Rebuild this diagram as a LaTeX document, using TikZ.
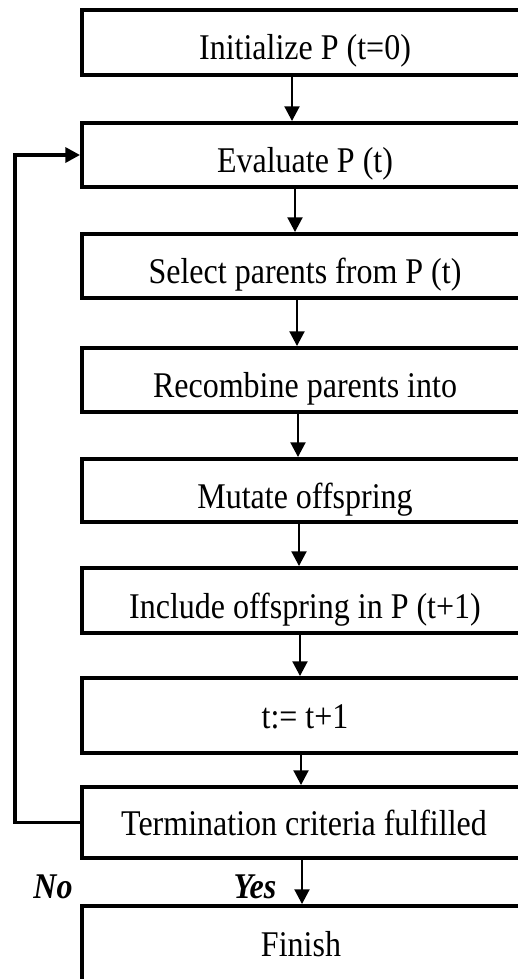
\documentclass[tikz,border=0pt]{standalone}
\usepackage{fontspec}
\setmainfont{Liberation Serif}
\usetikzlibrary{arrows.meta}
% slightly tall lettering
\newcommand\tallt[1]{\scalebox{1}[1.13]{#1}}

\begin{document}
\begin{tikzpicture}[
  x=0.75pt, y=-0.75pt,
  stepbox/.style={draw, line width=3pt, rectangle, minimum width=336pt,
                  inner sep=0pt, outer sep=auto},
  txt/.style={anchor=base, inner sep=0pt, font=\fontsize{24}{28}\selectfont},
  lbl/.style={anchor=base, inner sep=0pt, font=\fontsize{24}{28}\selectfont\bfseries\itshape},
  arr/.style={line width=1.5pt, -{Triangle[width=11.25pt,length=11pt]}},
  loopline/.style={line width=2.5pt, -{Triangle[width=11.25pt,length=11pt]}}
]
\useasboundingbox (0,0) rectangle (518,979);
\clip (0,0) rectangle (518,979);

% process boxes (they run past the right and bottom page edges)
\node[stepbox, minimum height=48.75pt] (b1) at (306,42.5) {};
\node[stepbox, minimum height=48pt]    (b2) at (306,155) {};
\node[stepbox, minimum height=48pt]    (b3) at (306,266) {};
\node[stepbox, minimum height=48pt]    (b4) at (306,380) {};
\node[stepbox, minimum height=47.25pt] (b5) at (306,490.5) {};
\node[stepbox, minimum height=48.75pt] (b6) at (306,600.5) {};
\node[stepbox, minimum height=56.25pt] (b7) at (306,715.5) {};
\node[stepbox, minimum height=53.25pt] (b8) at (306,822.5) {};
\node[stepbox, minimum height=112.5pt] (b9) at (306,981) {};

% box texts
\node[txt] (t1) at (305,59)  {\tallt{Initialize P (t=0)}};
\node[txt] (t2) at (305,172) {\tallt{Evaluate P (t)}};
\node[txt] (t3) at (305,283) {\tallt{Select parents from P (t)}};
\node[txt] (t4) at (305,397) {\tallt{Recombine parents into}};
\node[txt] (t5) at (305,508) {\tallt{Mutate offspring}};
\node[txt] (t6) at (305,618) {\tallt{Include offspring in P (t+1)}};
\node[txt] (t7) at (305,728) {\tallt{t:= t+1}};
\node[txt] (t8) at (304,835) {\tallt{Termination criteria fulfilled}};
\node[txt] (t9) at (301,956) {\tallt{Finish}};

% branch labels
\node[lbl] (no)  at (53,898)  {\tallt{No}};
\node[lbl] (yes) at (255,898) {\tallt{Yes}};

% flow arrows
\draw[arr] ([xshift=-10.5pt]b1.south)  -- ([xshift=-10.5pt]b2.north);
\draw[arr] ([xshift=-8.25pt]b2.south)  -- ([xshift=-8.25pt]b3.north);
\draw[arr] ([xshift=-6.75pt]b3.south)  -- ([xshift=-6.75pt]b4.north);
\draw[arr] ([xshift=-6pt]b4.south)     -- ([xshift=-6pt]b5.north);
\draw[arr] ([xshift=-5.25pt]b5.south)  -- ([xshift=-5.25pt]b6.north);
\draw[arr] ([xshift=-4.5pt]b6.south)   -- ([xshift=-4.5pt]b7.north);
\draw[arr] ([xshift=-3.75pt]b7.south)  -- ([xshift=-3.75pt]b8.north);
\draw[arr] ([xshift=-3pt]b8.south)     -- ([xshift=-3pt]b9.north);

% feedback loop back to the evaluation step
\coordinate (loop) at (15,822.5);
\draw[loopline] (b8.west) -- (loop) |- (b2.west);
\end{tikzpicture}
\end{document}
